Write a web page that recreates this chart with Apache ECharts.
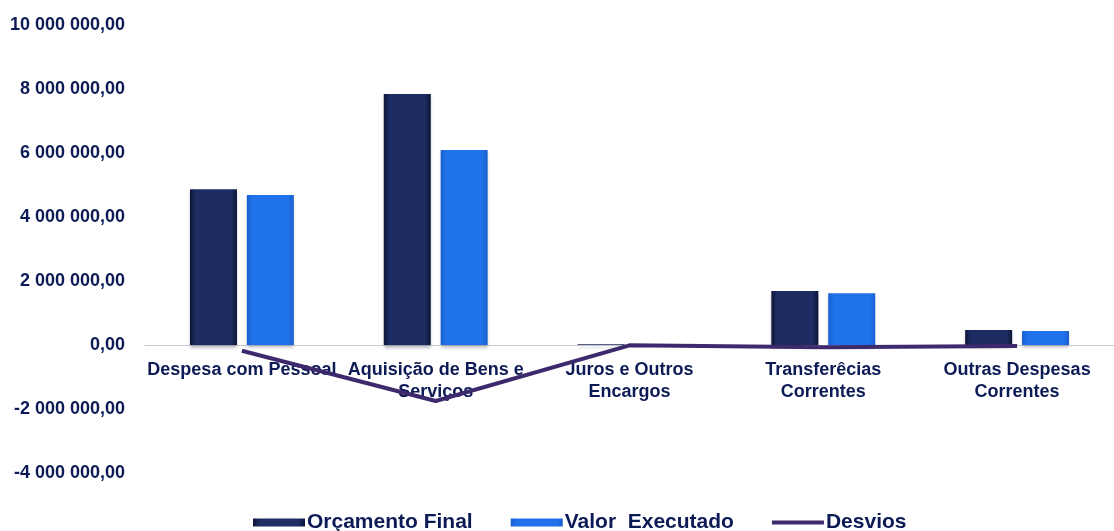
<!DOCTYPE html>
<html>
<head>
<meta charset="utf-8">
<script src="https://cdn.jsdelivr.net/npm/echarts@6/dist/echarts.min.js"></script>
<style>
html,body{margin:0;padding:0;background:#fff;}
#chart{width:1114px;height:531px;}
</style>
</head>
<body>
<div id="chart"></div>
<script>
const categories = ['Despesa com Pessoal', 'Aquisição de Bens e\nServiços', 'Juros e Outros\nEncargos', 'Transferêcias\nCorrentes', 'Outras Despesas\nCorrentes'];
const orcamentoFinal = [4870000, 7840000, 20000, 1690000, 470000];
const valorExecutado = [4690000, 6090000, 10000, 1620000, 440000];
const desvios = [-180000, -1750000, -10000, -70000, -30000];
const seriesNames = ['Orçamento Final', 'Valor  Executado', 'Desvios'];
const yMin = -4000000, yMax = 10000000, yStep = 2000000;

function fmt(v) {
  const neg = v < 0;
  const s = Math.abs(Math.round(v)).toString().replace(/\B(?=(\d{3})+(?!\d))/g, ' ');
  return (neg ? '-' : '') + s + ',00';
}

const navy = '#0c1a55';
const chart = echarts.init(document.getElementById('chart'));
const gridTop = 25, gridBottom = 58;
const plotH = 531 - gridTop - gridBottom;
const zeroOffset = plotH * (0 - yMin) / (yMax - yMin);

chart.setOption({
  backgroundColor: '#ffffff',
  animation: false,
  textStyle: { fontFamily: 'Liberation Sans, Arial, sans-serif' },
  grid: { left: 145, right: -31, top: gridTop, bottom: gridBottom, containLabel: false },
  legend: {
    left: 248, top: 507, itemWidth: 52, itemHeight: 8, itemGap: 38,
    textStyle: { fontSize: 21, fontWeight: 'bold', color: navy, padding: [0, 0, 0, -3] },
    data: [
      { name: seriesNames[0], icon: 'rect' },
      { name: seriesNames[1], icon: 'rect' },
      { name: seriesNames[2], icon: 'path://M0,0H52V4H0Z' }
    ]
  },
  xAxis: {
    type: 'category',
    data: categories,
    offset: -zeroOffset,
    axisLine: { onZero: false, lineStyle: { color: '#c9c9d0', width: 1 } },
    axisTick: { show: false },
    axisLabel: { interval: 0, fontSize: 18, fontWeight: 'bold', color: navy, margin: 14, lineHeight: 22 }
  },
  yAxis: {
    type: 'value', min: yMin, max: yMax, interval: yStep,
    axisLine: { show: false }, axisTick: { show: false }, splitLine: { show: false },
    axisLabel: { formatter: fmt, fontSize: 18, fontWeight: 'bold', color: navy, margin: 20 }
  },
  series: [
    {
      name: seriesNames[0], type: 'bar', data: orcamentoFinal, barWidth: 47, barGap: '21%',
      itemStyle: {
        color: new echarts.graphic.LinearGradient(0, 0, 1, 0, [
          { offset: 0, color: '#0d1636' }, { offset: 0.12, color: '#1d2c62' },
          { offset: 0.88, color: '#1d2c62' }, { offset: 1, color: '#0d1636' }]),
        shadowColor: 'rgba(60,60,80,0.35)', shadowBlur: 3, shadowOffsetY: 3
      }
    },
    {
      name: seriesNames[1], type: 'bar', data: valorExecutado, barWidth: 47,
      itemStyle: {
        color: new echarts.graphic.LinearGradient(0, 0, 1, 0, [
          { offset: 0, color: '#1a5fd0' }, { offset: 0.12, color: '#1f72ea' },
          { offset: 0.88, color: '#1f72ea' }, { offset: 1, color: '#1a5fd0' }]),
        shadowColor: 'rgba(60,60,80,0.3)', shadowBlur: 3, shadowOffsetY: 3
      }
    },
    {
      name: seriesNames[2], type: 'line', data: desvios, symbol: 'none', z: 5,
      symbolKeepAspect: true,
      lineStyle: { color: '#3d2a6c', width: 4 },
      itemStyle: { color: '#3d2a6c' }
    }
  ]
});
</script>
</body>
</html>
